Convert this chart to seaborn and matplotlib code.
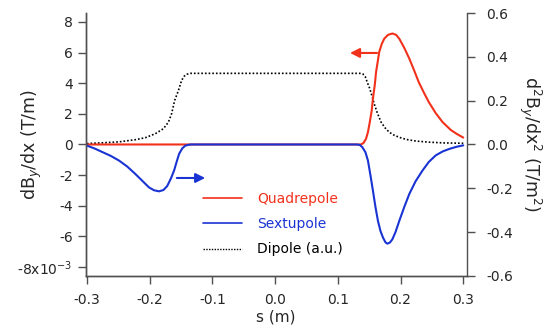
import numpy as np
import pandas as pd
import matplotlib
matplotlib.use("Agg")
import matplotlib.pyplot as plt
import seaborn as sns
from matplotlib.lines import Line2D

# values
# quadrupole gradient, left axis (units of 1e-3 T/m)
quad_s = [-0.30, 0.0, 0.130, 0.137, 0.141, 0.145, 0.148, 0.151, 0.154, 0.156, 0.159,
          0.161, 0.164, 0.166, 0.170, 0.174, 0.180, 0.187, 0.193, 0.198, 0.206,
          0.214, 0.222, 0.229, 0.237, 0.245, 0.256, 0.267, 0.280, 0.290, 0.300]
quad_v = [0.0, 0.0, 0.0, 0.0, 0.1, 0.37, 0.8, 1.46, 2.2, 2.99, 3.9,
          4.73, 5.5, 6.03, 6.55, 6.9, 7.15, 7.24, 7.15, 6.9, 6.3,
          5.6, 4.8, 4.07, 3.4, 2.77, 2.05, 1.46, 0.95, 0.68, 0.45]

# sextupole, right axis (T/m^2)
sext_s = [-0.300, -0.288, -0.275, -0.262, -0.249, -0.236, -0.223, -0.212, -0.201,
          -0.193, -0.185, -0.178, -0.172, -0.166, -0.161, -0.157, -0.153, -0.148,
          -0.143, -0.135, 0.0, 0.130, 0.135, 0.139, 0.144, 0.148, 0.152, 0.156,
          0.160, 0.164, 0.168, 0.172, 0.176, 0.179, 0.183, 0.187, 0.192, 0.198,
          0.206, 0.214, 0.224, 0.235, 0.245, 0.256, 0.267, 0.278, 0.290, 0.300]
sext_v = [-0.005, -0.018, -0.035, -0.052, -0.073, -0.100, -0.134, -0.165, -0.196,
          -0.209, -0.214, -0.208, -0.190, -0.155, -0.119, -0.080, -0.043, -0.018,
          -0.005, 0.0, 0.0, 0.0, -0.002, -0.012, -0.035, -0.073, -0.140, -0.211,
          -0.285, -0.349, -0.395, -0.425, -0.447, -0.453, -0.448, -0.433, -0.400, -0.349,
          -0.285, -0.226, -0.168, -0.119, -0.080, -0.050, -0.032, -0.020, -0.010, -0.004]

# dipole, arbitrary units drawn on left axis
dip_s = [-0.300, -0.275, -0.249, -0.223, -0.207, -0.191, -0.178, -0.170, -0.165,
         -0.160, -0.154, -0.149, -0.145, -0.141, -0.135, 0.0, 0.135, 0.140, 0.144,
         0.147, 0.151, 0.155, 0.158, 0.163, 0.169, 0.175, 0.182, 0.190, 0.200,
         0.209, 0.225, 0.246, 0.270, 0.300]
dip_v = [0.06, 0.11, 0.17, 0.31, 0.44, 0.70, 1.03, 1.46, 2.0,
         2.88, 3.53, 4.18, 4.45, 4.58, 4.64, 4.64, 4.64, 4.6, 4.4,
         4.05, 3.64, 3.1, 2.66, 2.05, 1.46, 1.1, 0.8, 0.6, 0.44,
         0.33, 0.22, 0.15, 0.1, 0.08]

x_ticks = [-0.3, -0.2, -0.1, 0.0, 0.1, 0.2, 0.3]
x_labels = ["-0.3", "-0.2", "-0.1", "0.0", "0.1", "0.2", "0.3"]
left_ticks = [-8, -6, -4, -2, 0, 2, 4, 6, 8]
left_labels = ["-8x10$^{-3}$", "-6", "-4", "-2", "0", "2", "4", "6", "8"]
right_ticks = [-0.6, -0.4, -0.2, 0.0, 0.2, 0.4, 0.6]
right_labels = ["-0.6", "-0.4", "-0.2", "0.0", "0.2", "0.4", "0.6"]

red = "#f2311c"
blue = "#1a34d4"
spine_c = "#505050"

sns.set_style("ticks")
plt.rcParams["font.family"] = ["DejaVu Sans"]
plt.rcParams["font.size"] = 10

fig = plt.figure(figsize=(5.47, 3.36), dpi=100)
ax = fig.add_axes([0.157, 0.179, 0.696, 0.782])
ax2 = ax.twinx()

sns.lineplot(x=dip_s, y=dip_v, ax=ax, color="black", lw=1.2, linestyle=(0, (1, 1.2)),
             sort=False, estimator=None)
sns.lineplot(x=quad_s, y=quad_v, ax=ax, color=red, lw=1.5, sort=False, estimator=None)
sns.lineplot(x=sext_s, y=sext_v, ax=ax2, color=blue, lw=1.5, sort=False, estimator=None)

ax.set_xlim(-0.3016, 0.3053)
ax.set_ylim(-8.57, 8.57)
ax2.set_ylim(-0.6, 0.6)
ax.set_xticks(x_ticks, x_labels)
ax.set_yticks(left_ticks, left_labels)
ax2.set_yticks(right_ticks, right_labels)

for a in (ax, ax2):
    for sp in a.spines.values():
        sp.set_color(spine_c)
        sp.set_linewidth(1.0)
    a.spines["top"].set_visible(False)
    a.tick_params(length=5.5, width=1.0, color=spine_c, labelsize=10, pad=4)
ax.spines["right"].set_visible(False)
ax.tick_params(axis="x", pad=7)
ax2.tick_params(axis="y", pad=8.5)

ax.set_xlabel("s (m)", fontsize=11, labelpad=2)
ax.set_ylabel("dB$_y$/dx (T/m)", fontsize=12.5)
ax.yaxis.set_label_coords(-0.11, 0.5)
ax2.set_ylabel("d$^2$B$_y$/dx$^2$ (T/m$^2$)", fontsize=12.5, rotation=270, labelpad=22)

# arrows telling which axis each curve belongs to
ax.annotate("", xy=(0.115, 5.97), xytext=(0.167, 5.97),
            arrowprops=dict(arrowstyle="-|>", color=red, lw=1.5, mutation_scale=14))
ax2.annotate("", xy=(-0.107, -0.153), xytext=(-0.161, -0.153),
             arrowprops=dict(arrowstyle="-|>", color=blue, lw=1.5, mutation_scale=14))

handles = [Line2D([], [], color=red, lw=1.2),
           Line2D([], [], color=blue, lw=1.2),
           Line2D([], [], color="black", lw=1.0, linestyle=(0, (1, 1)))]
leg = fig.legend(handles, ["Quadrepole", "Sextupole", "Dipole (a.u.)"],
                 loc="center left", bbox_to_anchor=(203 / 547, 1 - 224.3 / 336),
                 frameon=False, fontsize=10, handlelength=2.8, handletextpad=1.1,
                 labelspacing=0.8, borderpad=0, borderaxespad=0)
for txt, c in zip(leg.get_texts(), [red, blue, "black"]):
    txt.set_color(c)

fig.savefig("out.png", dpi=100)
